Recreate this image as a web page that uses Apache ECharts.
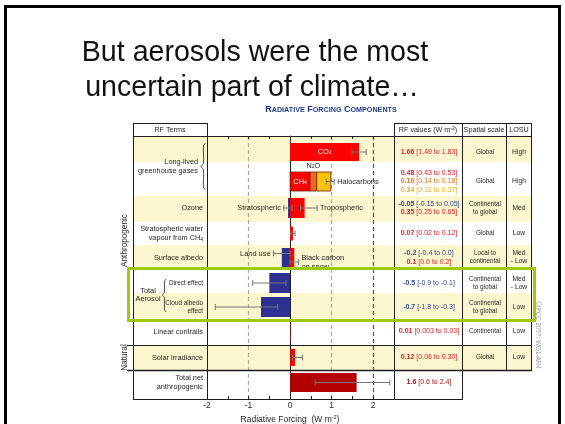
<!DOCTYPE html>
<html lang="en">
<head>
<meta charset="UTF-8">
<title>But aerosols were the most uncertain part of climate</title>
<script src="https://cdn.jsdelivr.net/npm/echarts@6/dist/echarts.min.js"></script>
<style>
  html, body { margin: 0; padding: 0; background: #fff; }
  #chart { width: 565px; height: 424px; }
</style>
</head>
<body>
<div id="chart"></div>
<script>
// ---- table rows, top to bottom ----
var rowKeys = ['CO2', 'Long-lived GHG', 'Ozone', 'Strat. H2O', 'Surface albedo',
               'Direct effect', 'Cloud albedo', 'Linear contrails', 'Solar irradiance', 'Total net'];
var rfTerms = ['', '', 'Ozone', 'Stratospheric water\nvapour from CH{s|4}', 'Surface albedo',
               '{m|Direct effect}', '{m|Cloud albedo}\n{m|effect}', 'Linear contrails',
               'Solar irradiance', 'Total net\nanthropogenic'];
var spatialScale = ['Global', 'Global', 'Continental\nto global', 'Global', 'Local to\ncontinental',
                    'Continental\nto global', 'Continental\nto global', 'Continental', 'Global', ''];
var losu = ['High', 'High', 'Med', 'Low', 'Med\n- Low', 'Med\n- Low', 'Low', 'Low', 'Low', ''];

// ---- forcing components (W m-2): row, best estimate, range ----
var compRow  = [0, 1, 1, 1, 2, 2, 3, 4, 4, 5, 6, 7, 8, 9];
var compBest = [1.66, 0.48, 0.16, 0.34, -0.05, 0.35, 0.07, -0.2, 0.1, -0.5, -0.7, 0.01, 0.12, 1.6];
var compLow  = [1.49, 0.43, 0.14, 0.31, -0.15, 0.25, 0.02, -0.4, 0.0, -0.9, -1.8, 0.003, 0.06, 0.6];
var compHigh = [1.83, 0.53, 0.18, 0.37, 0.05, 0.65, 0.12, 0.0, 0.2, -0.1, -0.3, 0.03, 0.30, 2.4];
var compDec  = [2, 2, 2, 2, 2, 2, 2, 1, 1, 1, 1, 2, 2, 1];
var compKind = ['red', 'red', 'orange', 'gold', 'blue', 'red', 'red', 'blue', 'red', 'blue', 'blue', 'red', 'red', 'dark'];
var compTag  = ['CO{s|2}', 'CH{s|4}', 'N{s|2}O', '', '', '', '', '', '', '', '', '', '', ''];
var compNote = ['', '', '', 'Halocarbons', 'Stratospheric', 'Tropospheric', '', 'Land use',
                'Black carbon\non snow', '', '', '', '', ''];
// whiskers as drawn on the bars (the halocarbon one sits on the stacked bar)
var whiskLow  = [1.49, null, null, 0.87, -0.15, 0.25, 0.02, -0.4, 0.0, -0.9, -1.8, null, 0.06, 0.6];
var whiskHigh = [1.83, null, null, 1.06, 0.05, 0.65, 0.12, 0.0, 0.2, -0.1, -0.3, null, 0.30, 2.4];

// ---- styles / layout ----
var FONT = '"Liberation Sans", Arial, sans-serif';
var ink = '#1e1e1e';
var beige = '#fcf7cf';
var barFill  = {red: '#ff0000', orange: '#f26522', gold: '#ffc20e', blue: '#2e3192', dark: '#b30000'};
var textFill = {red: '#ee1c24', orange: '#f47920', gold: '#f5b014', blue: '#2d4b9b', dark: '#b5121b'};

var gridL = 207, gridR = 394, gridT = 136;
var tabL = 133, colRF = 462, colScale = 506, colLosu = 531, headT = 123;
var rowSpan = [26, 34, 26, 23, 25, 23, 25, 27, 25, 29];
var barH    = [18, 19, 20, 14, 19, 20, 20, 19, 17, 19];
var barDy   = [3, 2.5, -1, 0, 0, 1.5, 1.5, 0, 0, -2];
var whiskDy = {7: -4, 8: 4.5};

var rowTop = [], acc = 0;
rowSpan.forEach(function (h) { rowTop.push(acc); acc += h; });
var tableH = acc;
var gridB = gridT + tableH;
function rowMid(r) { return rowTop[r] + rowSpan[r] / 2 + barDy[r]; }
function py(u) { return gridT + u; }

function fmt(v, d) {
  var s = String(v), k = s.indexOf('.');
  var dec = k < 0 ? 0 : s.length - k - 1;
  return v.toFixed(Math.max(d, dec));
}

// stack same-sign components inside a row
var posEnd = {}, negEnd = {};
var barData = compBest.map(function (v, i) {
  var r = compRow[i];
  var store = v >= 0 ? posEnd : negEnd;
  var s = store[r] || 0;
  store[r] = s + v;
  return [s, s + v, r, i];
});
var whiskData = [];
whiskLow.forEach(function (lo, i) {
  if (lo !== null) whiskData.push([lo, whiskHigh[i], i]);
});

function sub(size, color) {
  return {fontSize: size, fontFamily: FONT, fill: color, verticalAlign: 'bottom'};
}

function renderBar(params, api) {
  var r = api.value(2), i = api.value(3);
  var a = api.coord([api.value(0), rowMid(r)]);
  var b = api.coord([api.value(1), rowMid(r)]);
  var h = api.size([0, barH[r]])[1];
  var x0 = Math.min(a[0], b[0]), w = Math.abs(b[0] - a[0]);
  var kids = [{
    type: 'rect',
    shape: {x: x0, y: a[1] - h / 2, width: w, height: h},
    style: {fill: barFill[compKind[i]], stroke: r === 1 ? '#6b2200' : null, lineWidth: 0.8}
  }];
  if (compTag[i]) {
    var above = w < 14;
    var col = above ? ink : '#fff';
    kids.push({
      type: 'text', x: (a[0] + b[0]) / 2, y: above ? a[1] - h / 2 - 6 : a[1],
      style: {text: compTag[i], fill: col, fontSize: 7.4, fontFamily: FONT,
              align: 'center', verticalAlign: 'middle', rich: {s: sub(5, col)}}
    });
  }
  return {type: 'group', children: kids};
}

function renderWhisker(params, api) {
  var i = api.value(2), r = compRow[i];
  var y = rowMid(r) + (whiskDy[i] || 0);
  var a = api.coord([api.value(0), y]), b = api.coord([api.value(1), y]);
  var st = {stroke: '#777', lineWidth: 1};
  var kids = [
    {type: 'line', shape: {x1: a[0], y1: a[1], x2: b[0], y2: b[1]}, style: st},
    {type: 'line', shape: {x1: a[0], y1: a[1] - 3, x2: a[0], y2: a[1] + 3}, style: st},
    {type: 'line', shape: {x1: b[0], y1: b[1] - 3, x2: b[0], y2: b[1] + 3}, style: st}
  ];
  if (compNote[i]) {
    var left = compBest[i] < 0;
    kids.push({
      type: 'text', x: left ? a[0] - 3 : b[0] + 3, y: a[1],
      style: {text: compNote[i], fill: ink, fontSize: 7.4, fontFamily: FONT, lineHeight: 9,
              align: left ? 'right' : 'left', verticalAlign: 'middle'}
    });
  }
  return {type: 'group', children: kids};
}

// ---- static slide and table furniture ----
var G = [];
function line(x1, y1, x2, y2, w) {
  G.push({type: 'line', z: 10, shape: {x1: x1, y1: y1, x2: x2, y2: y2},
          style: {stroke: ink, lineWidth: w || 1}});
}
function text(x, y, str, st, rot, z) {
  G.push({type: 'text', x: x, y: y, z: z || 10, rotation: rot || 0,
          style: Object.assign({text: str, fill: ink, fontFamily: FONT, fontSize: 7.3,
                                align: 'center', verticalAlign: 'middle'}, st)});
}
function brace(xt, xe, y0, y1, ym) {
  var xm = xt + (xe - xt) * 0.55;
  G.push({type: 'polyline', z: 10,
          shape: {points: [[xe, y0], [xm, y0 + 3], [xm, ym - 3], [xt, ym], [xm, ym + 3], [xm, y1 - 3], [xe, y1]], smooth: 0.3},
          style: {stroke: ink, lineWidth: 0.8, fill: null}});
}

// slide frame and title
G.push({type: 'rect', z: 30, shape: {x: 5.5, y: 6.5, width: 554, height: 440},
        style: {fill: null, stroke: '#000', lineWidth: 3}});
text(255, 53, 'But aerosols were the most', {fontSize: 28.6, fill: '#111'});
text(252, 88, 'uncertain part of climate\u2026', {fontSize: 28.6, fill: '#111'});
var sc = {fontSize: 7.2, fontWeight: 'bold', fontFamily: FONT, fill: '#1d3c8f'};
text(331, 110, 'R{s|ADIATIVE} F{s|ORCING} C{s|OMPONENTS}',
     {fontSize: 9, fontWeight: 'bold', fill: '#1d3c8f', rich: {s: sc}});

// row backgrounds
rowKeys.forEach(function (k, r) {
  G.push({type: 'rect', z: -1,
          shape: {x: tabL, y: py(rowTop[r]), width: (r === 9 ? colRF : colLosu) - tabL, height: rowSpan[r]},
          style: {fill: r % 2 ? '#ffffff' : beige}});
});

// grid lines of the table
[tabL, gridL, gridR, colRF].forEach(function (x) { line(x + 0.5, headT, x + 0.5, gridB); });
[colScale, colLosu].forEach(function (x) { line(x + 0.5, headT, x + 0.5, py(rowTop[9])); });
line(tabL, headT + 0.5, gridL, headT + 0.5);
line(gridR, headT + 0.5, colLosu + 1, headT + 0.5);
line(tabL, gridT + 0.5, colLosu + 1, gridT + 0.5);
line(127, py(rowTop[8]) + 0.5, colLosu + 1, py(rowTop[8]) + 0.5, 1.2);
line(127, py(rowTop[9]) + 0.5, colLosu + 1, py(rowTop[9]) + 0.5, 1.6);
line(tabL, gridB + 0.5, colRF + 1, gridB + 0.5);

// header
var supStyle = {fontSize: 5, fontFamily: FONT, fill: ink, verticalAlign: 'top'};
var hy = (headT + gridT) / 2 + 0.5;
text((tabL + gridL) / 2, hy, 'RF Terms', {fontSize: 7.2});
text((gridR + colRF) / 2, hy, 'RF values (W m{p|-2})', {fontSize: 7.2, rich: {p: supStyle}});
text((colRF + colScale) / 2, hy, 'Spatial scale', {fontSize: 7.2});
text((colScale + colLosu) / 2 + 0.5, hy, 'LOSU', {fontSize: 7.2});

// group labels on the left
text(125, (py(0) + py(rowTop[8])) / 2, 'Anthropogenic', {fontSize: 8.2}, Math.PI / 2);
text(125, py(rowTop[8] + rowSpan[8] / 2), 'Natural', {fontSize: 8.2}, Math.PI / 2);

// RF terms column
rfTerms.forEach(function (t, r) {
  if (!t) return;
  text(gridL - 4, py(rowMid(r)), t, {align: 'right', lineHeight: 8.5,
       rich: {s: sub(5, ink), m: {fontSize: 6.4, fontFamily: FONT, fill: ink, lineHeight: 8}}});
});
text(198, py(rowTop[1]) + 4.5, 'Long-lived\ngreenhouse gases', {align: 'right', lineHeight: 9});
brace(201, 205.5, py(rowTop[0]) + 7, py(rowTop[1]) + 28, py(rowTop[1]) + 4.5);
text(148, py(rowTop[6]) + 2, 'Total\nAerosol', {fontSize: 7.4, lineHeight: 8.5});
brace(162.5, 166, py(rowTop[5]) + 9, py(rowTop[6]) + 19, py(rowTop[6]) + 2);

// RF values column
var valRich = {};
Object.keys(textFill).forEach(function (k) {
  valRich['b' + k] = {fontSize: 7, fontWeight: 'bold', fontFamily: FONT, fill: textFill[k]};
  valRich['n' + k] = {fontSize: 7, fontFamily: FONT, fill: textFill[k]};
});
rowKeys.forEach(function (key, r) {
  var lines = [];
  compRow.forEach(function (cr, i) {
    if (cr !== r) return;
    var k = compKind[i];
    lines.push('{b' + k + '|' + fmt(compBest[i], compDec[i]) + '} {n' + k + '|[' +
               fmt(compLow[i], compDec[i]) + ' to ' + fmt(compHigh[i], compDec[i]) + ']}');
  });
  text((gridR + colRF) / 2 + 1, py(rowMid(r)), lines.join('\n'), {fontSize: 7, lineHeight: 8.8, rich: valRich});
  if (spatialScale[r]) text((colRF + colScale) / 2 + 1, py(rowMid(r)), spatialScale[r], {fontSize: 6.3, lineHeight: 7.8});
  if (losu[r]) text((colScale + colLosu) / 2 + 0.5, py(rowMid(r)), losu[r], {fontSize: 6.7, lineHeight: 8});
});

// highlight box and credit
G.push({type: 'rect', z: 20,
        shape: {x: 128.5, y: py(rowTop[5]) - 1.5, width: 406, height: rowSpan[5] + rowSpan[6] + 4},
        style: {fill: null, stroke: '#9dcb0a', lineWidth: 3}});
text(538, 335, '\u00a9IPCC 2007: WG1-AR4', {fontSize: 6.3, fill: '#9a9a9a'}, -Math.PI / 2);

// ---- chart ----
var chart = echarts.init(document.getElementById('chart'));
chart.setOption({
  animation: false,
  backgroundColor: '#fff',
  textStyle: {fontFamily: FONT},
  grid: {left: gridL, right: 565 - gridR, top: gridT, height: tableH, outerBoundsMode: 'none'},
  xAxis: [{
    type: 'value', min: -2, max: 2.5, interval: 1, position: 'bottom',
    axisLine: {show: true, onZero: false, lineStyle: {color: ink}},
    axisTick: {show: true, inside: true, length: 3, lineStyle: {color: ink}},
    minorTick: {show: true, splitNumber: 2, length: 3, lineStyle: {color: ink}},
    axisLabel: {showMaxLabel: false, fontSize: 8.5, color: ink, margin: 2, fontFamily: FONT},
    splitLine: {show: true, lineStyle: {type: [4, 3], width: 1.2,
      color: ['rgba(0,0,0,0)', '#a8a8a8', 'rgba(0,0,0,0)', '#a8a8a8', '#555', 'rgba(0,0,0,0)']}},
    name: 'Radiative Forcing  (W m{p|-2})', nameLocation: 'middle', nameGap: 13,
    nameTextStyle: {fontSize: 8.5, color: ink, fontFamily: FONT, padding: [0, 21, 0, 0],
                    rich: {p: {fontSize: 5.5, fontFamily: FONT, color: ink, verticalAlign: 'top'}}}
  }, {
    type: 'value', min: -2, max: 2.5, interval: 1, position: 'top',
    axisLine: {show: true, onZero: false, lineStyle: {color: ink}},
    axisTick: {show: true, inside: true, length: 3, lineStyle: {color: ink}},
    minorTick: {show: true, splitNumber: 2, length: 3, lineStyle: {color: ink}},
    axisLabel: {show: false}, splitLine: {show: false}
  }],
  yAxis: [{
    type: 'value', min: 0, max: tableH, inverse: true,
    axisLine: {show: true, onZero: true, lineStyle: {color: ink, width: 1}},
    axisTick: {show: false}, axisLabel: {show: false}, splitLine: {show: false}
  }],
  graphic: {elements: G},
  series: [{
    type: 'custom', name: 'forcing', z: 3,
    xAxisIndex: 0, yAxisIndex: 0,
    encode: {x: [0, 1]},
    data: barData, renderItem: renderBar
  }, {
    type: 'custom', name: 'range', z: 4,
    xAxisIndex: 0, yAxisIndex: 0,
    encode: {x: [0, 1]},
    data: whiskData, renderItem: renderWhisker
  }]
});
</script>
</body>
</html>
